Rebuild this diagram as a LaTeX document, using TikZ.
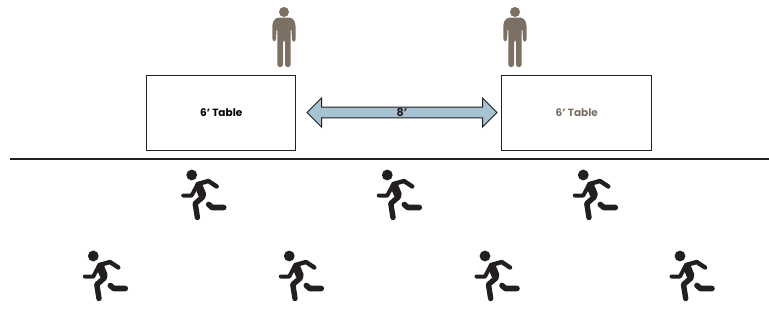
\documentclass[tikz,border=0pt]{standalone}
\usepackage{fontspec}
\setmainfont{Poppins}
\usetikzlibrary{shapes.arrows}
\definecolor{standbrown}{HTML}{7B7063}
\definecolor{arrowblue}{HTML}{A5C3D3}
\definecolor{inkline}{HTML}{231F20}
\tikzset{
  x=1pt,y=-1pt,
  tablebox/.style={draw=inkline,line width=1pt,minimum width=149.5pt,minimum height=75pt,inner sep=0pt,font=\bfseries\fontsize{10.5}{11}\selectfont},
  gaparrow/.style={double arrow,draw=inkline,fill=arrowblue,line width=1pt,minimum height=190pt,minimum width=29pt,double arrow head extend=8pt,inner sep=0pt,font=\bfseries\fontsize{11}{12}\selectfont,text=inkline},
  limb/.style={draw=inkline,line cap=round,line join=round},
  runner/.pic={
    \fill[inkline] (0,0) circle (5.4);
    \draw[limb,line width=8pt] (7,11) -- (10.5,19.5);
    \draw[limb,line width=5.4pt] (11,22) -- (3.5,28.5) -- (5.7,42.5);
    \draw[limb,line width=4.4pt] (6,9) -- (16.7,6) -- (25,11.5);
    \draw[limb,line width=4pt] (-8.5,20.5) -- (0,20.5) -- (5,11);
    \draw[limb,line width=5.6pt] (17,29.5) -- (20.5,32.5) -- (32,32.5);
  },
  stander/.pic={
    \fill[standbrown] (0,0) circle (5);
    \fill[standbrown,rounded corners=2.5pt] (-11.7,29) -- (-11.7,12) [rounded corners=4pt] -- (-9,5.5) -- (9,5.5) -- (11.7,12) [rounded corners=2.5pt] -- (11.7,29.5) -- (8,29.5) -- (7.5,16) -- (6.7,16)
      -- (6.7,55) -- (1,55) -- (1,28) -- (-1,28) -- (-1,55) -- (-6.7,55) -- (-6.7,16) -- (-7.5,16) -- (-8,29.5) -- cycle;
  }
}
\begin{document}
\begin{tikzpicture}
\useasboundingbox (0,0) rectangle (769,322);
\node[tablebox] (tableleft) at (221.2,112.5) {6’ Table};
\node[tablebox,text=standbrown] (tableright) at (576.7,112.5) {6’ Table};
\node[gaparrow] (gap) at (402,112.5) {8’};
\coordinate (linestart) at (10,158.5);
\coordinate (lineend) at (769,158.5);
\draw[inkline,line width=2pt] (linestart) -- (lineend);
\pic at (284,12) {stander};
\pic at (515,12) {stander};
\foreach \x in {191.7,387.3,583.3} \pic at (\x,175) {runner};
\foreach \x in {93.3,289.3,485,680} \pic at (\x,256) {runner};
\end{tikzpicture}
\end{document}
